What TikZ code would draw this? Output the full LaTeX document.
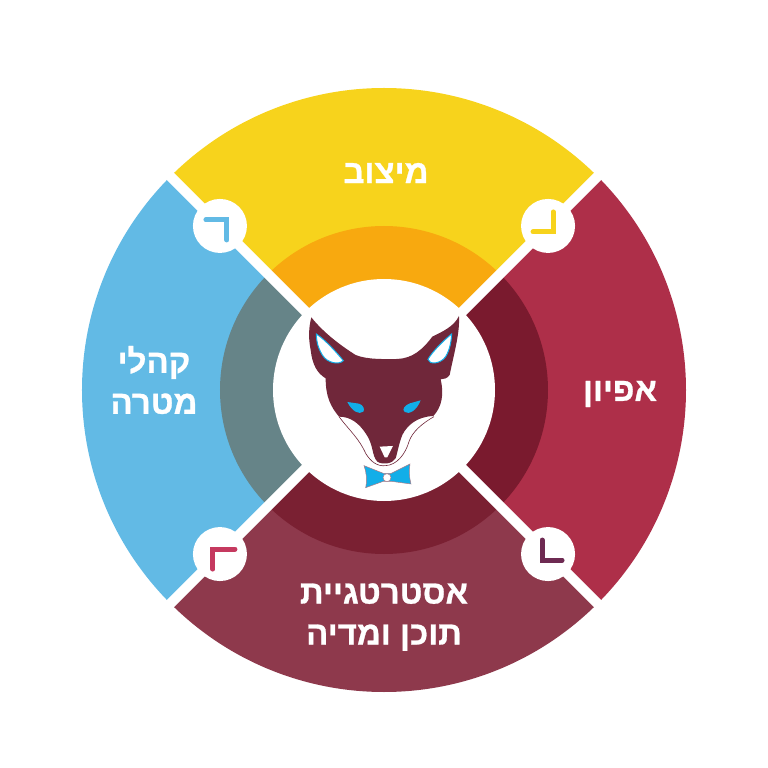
\documentclass[tikz,border=0pt]{standalone}
\usepackage{fontspec}
\usetikzlibrary{calc}
\newfontfamily\hebfont[Script=Hebrew,BoldFeatures={FakeBold=0.8}]{Liberation Sans}
\TeXXeTstate=1
\definecolor{wedgeyellow}{HTML}{F7D31C}
\definecolor{wedgered}{HTML}{AE2F49}
\definecolor{wedgemaroon}{HTML}{8E394C}
\definecolor{wedgeblue}{HTML}{62BAE5}
\definecolor{ringorange}{HTML}{F8A90F}
\definecolor{ringdark}{HTML}{7A1A2E}
\definecolor{ringmaroon}{HTML}{7A2032}
\definecolor{ringteal}{HTML}{668488}
\definecolor{foxbody}{HTML}{70273A}
\definecolor{foxblue}{HTML}{12AEE8}
\definecolor{markpink}{HTML}{C5395F}
\definecolor{markplum}{HTML}{6E2A52}
\tikzset{
  wedgelabel/.style={text=white,align=center,font=\hebfont\bfseries\fontsize{33}{41}\selectfont},
  markdisc/.style={circle,fill=white,minimum size=54pt,inner sep=0pt},
  cornermark/.style={line width=5pt,line cap=round,line join=miter}
}
\begin{document}
\begin{tikzpicture}[x=1pt,y=1pt]
	\useasboundingbox (-384,-378) rectangle (384,390);
	% outer wedges and inner ring pieces
	\foreach \a/\outercol/\innercol in {45/wedgeyellow/ringorange,135/wedgeblue/ringteal,225/wedgemaroon/ringmaroon,315/wedgered/ringdark}{
		\fill [fill=\outercol] (0,0) -- (\a:302) arc (\a:\a+90:302) -- cycle;
		\fill [fill=\innercol] (0,0) -- (\a:164) arc (\a:\a+90:164) -- cycle;
	}
	% white strips between the wedges
	\coordinate (stripa) at (45:325);
	\coordinate (stripb) at (225:325);
	\coordinate (stripc) at (135:325);
	\coordinate (stripd) at (315:325);
	\draw [white,line width=10pt] (stripa) -- (stripb);
	\draw [white,line width=10pt] (stripc) -- (stripd);
	\node [circle,fill=white,minimum size=222pt,inner sep=0pt] (hub) at (0,0) {};
	% discs with the corner marks
	\node [markdisc] (disctl) at (135:232) {};
	\node [markdisc] (disctr) at (45:232) {};
	\node [markdisc] (discbl) at (225:232) {};
	\node [markdisc] (discbr) at (315:232) {};
	\draw [cornermark,color=wedgeblue] ($(disctl)+(-14,6)$) -- ++(21,0) -- ++(0,-20);
	\draw [cornermark,color=wedgeyellow] ($(disctr)+(5,14)$) -- ++(0,-20) -- ++(-20,0);
	\draw [cornermark,color=markpink] ($(discbl)+(-7,-15)$) -- ++(0,20) -- ++(22,0);
	\draw [cornermark,color=markplum] ($(discbr)+(-6,14)$) -- ++(0,-20) -- ++(20,0);
	% labels
	\node [wedgelabel] (posname) at (2,217) {\beginR מיצוב\endR};
	\node [wedgelabel] (specname) at (236,-4) {\beginR אפיון\endR};
	\node [wedgelabel] (audname) at (-230,10) {\beginR קהלי\endR\\\beginR מטרה\endR};
	\node [wedgelabel] (stratname) at (0,-227) {\beginR אסטרטגיית\endR\\\beginR תוכן ומדיה\endR};
	% fox head, coordinates read from the enlarged crop
	\begin{scope}[shift={(-100,100)},x=0.3333pt,y=-0.3333pt]
		\fill [fill=foxbody] (82,82) .. controls (120,130) and (175,170) .. (215,195)
			.. controls (250,210) and (310,207) .. (340,207)
			.. controls (385,205) and (415,180) .. (445,140)
			.. controls (475,125) and (510,110) .. (525,78)
			.. controls (528,130) and (510,190) .. (497,255)
			.. controls (490,265) and (480,268) .. (470,268)
			.. controls (480,310) and (475,350) .. (448,378)
			.. controls (400,380) and (370,405) .. (355,435)
			.. controls (345,460) and (340,490) .. (335,505)
			.. controls (325,522) and (295,525) .. (280,515)
			.. controls (262,495) and (270,465) .. (245,430)
			.. controls (225,400) and (200,380) .. (165,380)
			.. controls (140,350) and (125,320) .. (125,265)
			.. controls (100,250) and (85,225) .. (80,180)
			.. controls (72,140) and (75,110) .. (82,82) -- cycle;
		% thin edge of the white cheeks
		\draw [foxbody,line width=0.6pt] (165,380) .. controls (195,420) and (225,445) .. (245,490)
			.. controls (260,515) and (280,530) .. (305,527)
			.. controls (340,525) and (365,490) .. (375,455)
			.. controls (385,425) and (415,400) .. (450,380);
		% ears
		\filldraw [fill=white,draw=foxblue,line width=1pt] (97,132) .. controls (125,150) and (160,190) .. (178,212)
			.. controls (165,225) and (130,220) .. (115,195) .. controls (100,170) and (97,150) .. (97,132) -- cycle;
		\filldraw [fill=white,draw=foxblue,line width=1pt] (503,132) .. controls (480,150) and (445,185) .. (432,208)
			.. controls (435,225) and (470,222) .. (485,200) .. controls (497,180) and (502,155) .. (503,132) -- cycle;
		% eyes and nose
		\fill [fill=foxblue] (190,336) -- (225,341) .. controls (238,345) and (243,358) .. (238,365)
			.. controls (225,375) and (205,365) .. (190,336) -- cycle;
		\fill [fill=foxblue] (410,331) -- (378,340) .. controls (362,346) and (353,358) .. (362,366)
			.. controls (375,375) and (398,362) .. (410,331) -- cycle;
		\fill [fill=white] (287,470) -- (327,468) -- (310,502) -- (302,502) -- cycle;
		% bow tie
		\filldraw [fill=foxblue,draw=foxbody!60,line width=0.5pt] (240,527) -- (298,550)
			-- (322,550) -- (378,522)
			.. controls (375,540) and (375,560) .. (381,582)
			-- (322,574) -- (298,574) -- (245,593)
			.. controls (250,570) and (248,550) .. (240,527) -- cycle;
		\filldraw [fill=white,draw=foxbody!60,line width=0.5pt] (309,563) circle [radius=12];
	\end{scope}
\end{tikzpicture}
\end{document}
